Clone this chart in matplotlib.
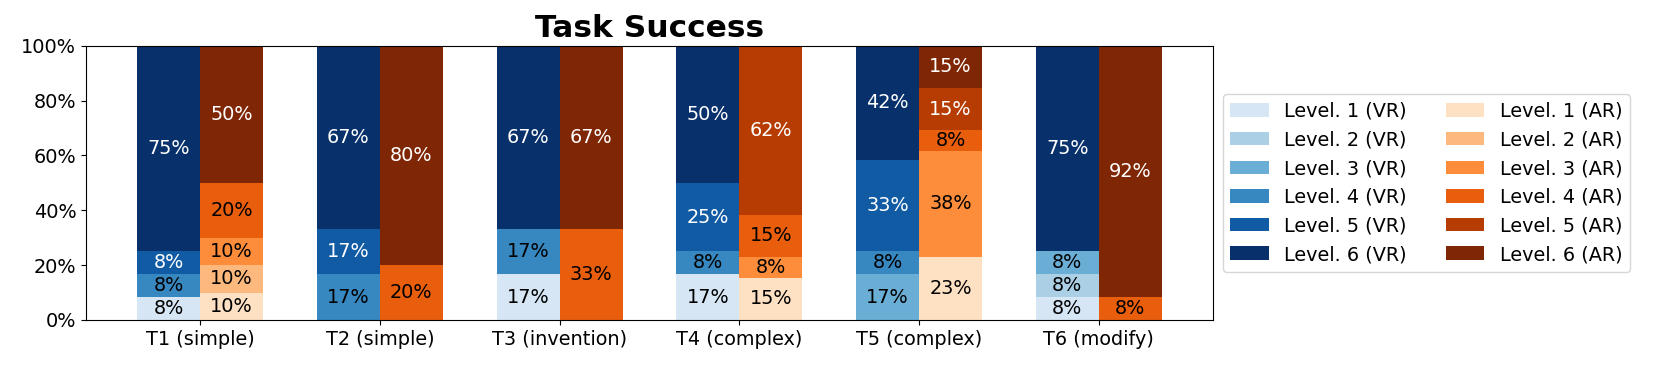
import numpy as np
import matplotlib
matplotlib.use("Agg")
import matplotlib.pyplot as plt

tasks = ["T1 (simple)", "T2 (simple)", "T3 (invention)", "T4 (complex)", "T5 (complex)", "T6 (modify)"]
levels = ["Level. 1", "Level. 2", "Level. 3", "Level. 4", "Level. 5", "Level. 6"]

# percentages per level (rows) for each task (columns)
vr_values = np.array([
    [8.33, 0, 16.67, 16.67, 0, 8.33],      # Level 1
    [0, 0, 0, 0, 0, 8.33],                 # Level 2
    [0, 0, 0, 0, 16.67, 8.33],             # Level 3
    [8.33, 16.67, 16.67, 8.33, 8.33, 0],   # Level 4
    [8.33, 16.67, 0, 25.0, 33.33, 0],      # Level 5
    [75.0, 66.67, 66.67, 50.0, 41.67, 75.0],  # Level 6
])
ar_values = np.array([
    [10, 0, 0, 15.38, 23.08, 0],           # Level 1
    [10, 0, 0, 0, 0, 0],                   # Level 2
    [10, 0, 0, 7.69, 38.46, 0],            # Level 3
    [20, 20, 33.33, 15.38, 7.69, 8.33],    # Level 4
    [0, 0, 0, 61.54, 15.38, 0],            # Level 5
    [50, 80, 66.67, 0, 15.38, 91.67],      # Level 6
])

blues = ["#d6e6f4", "#abd0e6", "#6aaed6", "#3787c0", "#105ba4", "#08306b"]
oranges = ["#fee0c3", "#fdb97d", "#fd8c3b", "#e95e0d", "#b63c02", "#7f2704"]

FS = 13.9
plt.rcParams['font.size'] = FS

fig = plt.figure(figsize=(16.61, 3.69), dpi=100)
ax = fig.add_axes([0.0518, 0.1328, 0.6785, 0.7432])

x = np.arange(len(tasks))
w = 0.35

handles_vr, handles_ar = [], []
for values, offset, cols, tag, hl in [(vr_values, -w / 2, blues, "VR", handles_vr),
                                       (ar_values, w / 2, oranges, "AR", handles_ar)]:
    bottom = np.zeros(len(tasks))
    for i in range(len(levels)):
        vals = values[i]
        b = ax.bar(x + offset, vals, w, bottom=bottom, color=cols[i],
                   label=f"{levels[i]} ({tag})")
        hl.append(b)
        for j, v in enumerate(vals):
            if v > 0:
                ax.text(x[j] + offset, bottom[j] + v / 2, f"{v:.0f}%",
                        ha="center", va="center", fontsize=FS,
                        color="white" if i >= 4 else "black")
        bottom += vals

ax.set_ylim(0, 100)
ax.set_yticks([0, 20, 40, 60, 80, 100])
ax.set_yticklabels([f"{t}%" for t in [0, 20, 40, 60, 80, 100]])
ax.set_xticks(x)
ax.set_xticklabels(tasks)
ax.set_title("Task Success", fontsize=22.5, fontweight="bold")

ax.legend(handles_vr + handles_ar, [h.get_label() for h in handles_vr + handles_ar],
          ncol=2, loc="center left", bbox_to_anchor=(1.0, 0.5), fontsize=FS)

fig.savefig("out.png", dpi=100)
